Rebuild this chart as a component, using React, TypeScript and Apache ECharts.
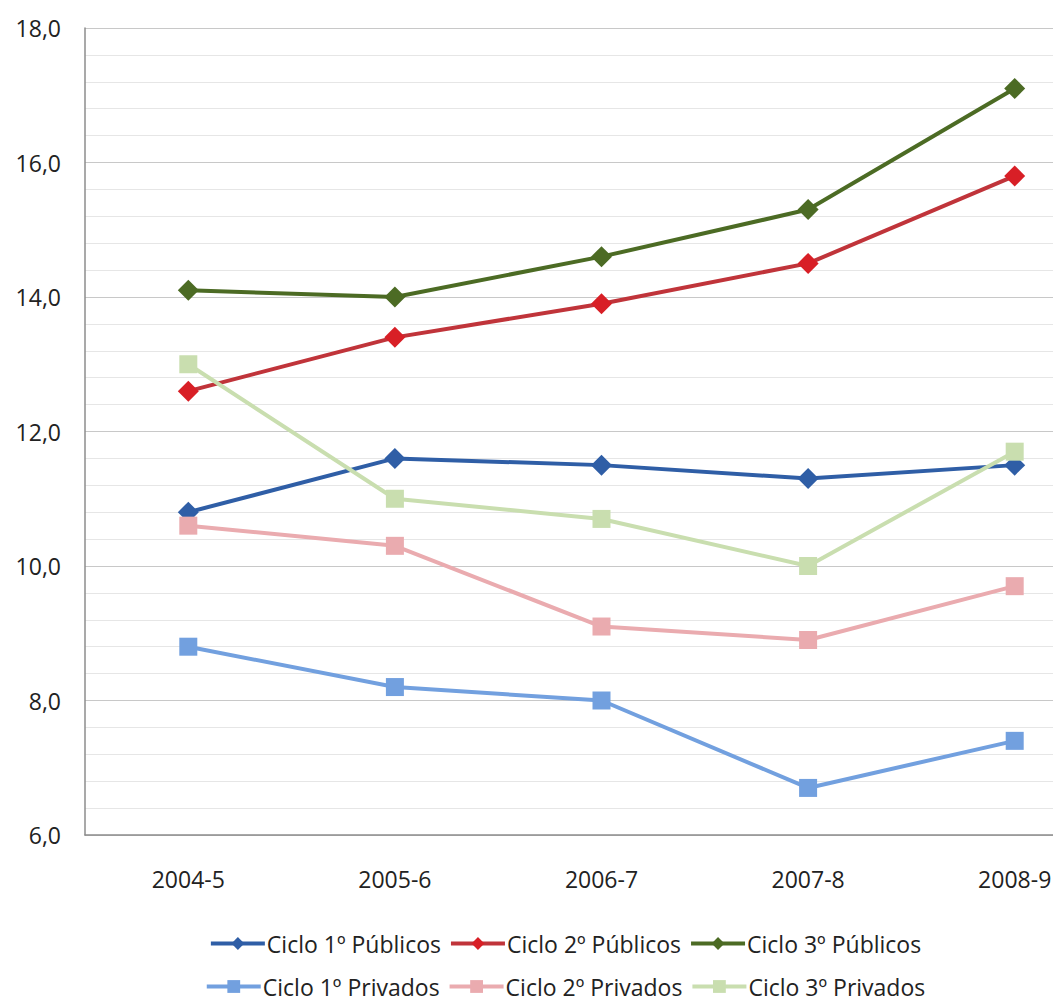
import React, { useEffect, useRef } from "react";
import * as echarts from "echarts";

const categories = ["2004-5", "2005-6", "2006-7", "2007-8", "2008-9"];
const ciclo1Publicos = [10.8, 11.6, 11.5, 11.3, 11.5];
const ciclo2Publicos = [12.6, 13.4, 13.9, 14.5, 15.8];
const ciclo3Publicos = [14.1, 14.0, 14.6, 15.3, 17.1];
const ciclo1Privados = [8.8, 8.2, 8.0, 6.7, 7.4];
const ciclo2Privados = [10.6, 10.3, 9.1, 8.9, 9.7];
const ciclo3Privados = [13.0, 11.0, 10.7, 10.0, 11.7];

const seriesNames = [
  "Ciclo 1º Públicos",
  "Ciclo 2º Públicos",
  "Ciclo 3º Públicos",
  "Ciclo 1º Privados",
  "Ciclo 2º Privados",
  "Ciclo 3º Privados",
];

const FONT = "'Open Sans', 'Noto Sans', sans-serif";

export default function App() {
  const ref = useRef<HTMLDivElement>(null);
  useEffect(() => {
    if (!ref.current) return;
    const chart = echarts.init(ref.current, null, { renderer: "svg" });
    const mk = (
      name: string,
      data: number[],
      color: string,
      symbol: string,
      lineColor?: string
    ) => ({
      name,
      type: "line",
      data,
      symbol,
      symbolSize: symbol === "diamond" ? 21 : 18,
      lineStyle: { color: lineColor || color, width: 4 },
      itemStyle: { color },
      z: 2,
    });
    const legendCommon = {
      left: "center",
      itemWidth: 54,
      itemHeight: 16,
      itemGap: 8,
      lineStyle: { width: 4 },
      textStyle: { fontFamily: FONT, fontSize: 23, color: "#222", padding: [0, 0, 0, -3] },
    };
    chart.setOption({
      animation: false,
      backgroundColor: "#ffffff",
      textStyle: { fontFamily: FONT },
      grid: { left: 85, top: 28, right: 12, height: 807 },
      legend: [
        { ...legendCommon, data: seriesNames.slice(0, 3), top: 927 },
        { ...legendCommon, data: seriesNames.slice(3), top: 970 },
      ],
      xAxis: {
        type: "category",
        data: categories,
        boundaryGap: true,
        axisLine: { lineStyle: { color: "#8c8c8c", width: 1.5 } },
        axisTick: { show: false },
        axisLabel: { fontSize: 23, color: "#222", margin: 32, fontFamily: FONT },
        splitLine: { show: false },
      },
      yAxis: {
        type: "value",
        min: 6,
        max: 18,
        interval: 2,
        axisLine: { show: true, lineStyle: { color: "#8c8c8c", width: 1.5 } },
        axisTick: { show: false },
        axisLabel: {
          fontSize: 23,
          color: "#222",
          margin: 24,
          fontFamily: FONT,
          formatter: (v: number) => v.toFixed(1).replace(".", ","),
        },
        splitLine: { show: true, lineStyle: { color: "#c8c8c8", width: 1 } },
        minorTick: { show: false, splitNumber: 5 },
        minorSplitLine: { show: true, lineStyle: { color: "#e6e6e6", width: 1 } },
      },
      series: [
        mk(seriesNames[0], ciclo1Publicos, "#2f5ea6", "diamond"),
        mk(seriesNames[1], ciclo2Publicos, "#d81f26", "diamond", "#c0343a"),
        mk(seriesNames[2], ciclo3Publicos, "#4c6b24", "diamond"),
        mk(seriesNames[3], ciclo1Privados, "#72a0df", "rect"),
        mk(seriesNames[4], ciclo2Privados, "#eaabaf", "rect"),
        mk(seriesNames[5], ciclo3Privados, "#c9deaf", "rect"),
      ],
    });
    return () => chart.dispose();
  }, []);
  return (
    <div
      ref={ref}
      style={{ position: "fixed", left: 0, top: 0, width: 1130, height: 1006 }}
    />
  );
}
